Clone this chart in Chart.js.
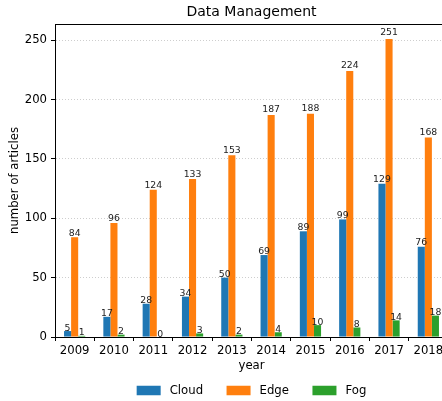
<!DOCTYPE html>
<html><head><meta charset="utf-8">
<script src="https://cdn.jsdelivr.net/npm/chart.js@4/dist/chart.umd.min.js"></script>
<style>html,body{margin:0;padding:0;overflow:hidden;background:#fff;width:442px;height:401px}canvas{display:block}</style>
</head><body>
<canvas id="c" width="503" height="401"></canvas>
<script>
const years = ['2009','2010','2011','2012','2013','2014','2015','2016','2017','2018'];
const cloud = [5,17,28,34,50,69,89,99,129,76];
const edge = [84,96,124,133,153,187,188,224,251,168];
const fog = [1,2,0,3,2,4,10,8,14,18];
const seriesNames = ['Cloud','Edge','Fog'];
const seriesColors = ['#1f77b4','#ff7f0e','#2ca02c'];
const yTicks = [0,50,100,150,200,250];
const yMax = 263.55;
const titleText = 'Data Management';
const xTitle = 'year';
const yTitle = 'number of articles';

const FONT = "'DejaVu Sans', sans-serif";
const FS = 11.7;

const barLabels = {
  id: 'barLabels',
  afterDatasetsDraw(chart) {
    const ctx = chart.ctx;
    const ys = chart.scales.y;
    ctx.save();
    ctx.font = '9.3px ' + FONT;
    ctx.fillStyle = '#222';
    ctx.textAlign = 'center';
    ctx.textBaseline = 'alphabetic';
    chart.data.datasets.forEach((ds, i) => {
      const meta = chart.getDatasetMeta(i);
      meta.data.forEach((el, j) => {
        const v = ds.data[j];
        const y = ys.getPixelForValue(v * 1.01);
        ctx.fillText(String(v), el.x, y - 0.5);
      });
    });
    ctx.restore();
  }
};

const frame = {
  id: 'frame',
  afterDraw(chart) {
    const ctx = chart.ctx, a = chart.chartArea;
    ctx.save();
    // top spine
    ctx.strokeStyle = '#000';
    ctx.lineWidth = 1;
    ctx.beginPath();
    ctx.moveTo(a.left, a.top + 0.5);
    ctx.lineTo(a.right, a.top + 0.5);
    ctx.stroke();
    // title
    ctx.fillStyle = '#000';
    ctx.font = '14px ' + FONT;
    ctx.textAlign = 'center';
    ctx.textBaseline = 'alphabetic';
    const cx = (a.left + a.right) / 2;
    ctx.fillText(titleText, cx, a.top - 8.5);
    // legend
    ctx.font = FS + 'px ' + FONT;
    ctx.textBaseline = 'middle';
    ctx.textAlign = 'left';
    const boxW = 24, boxH = 9.5, gap = 9, spacing = 23.5;
    const widths = chart.data.datasets.map(d => ctx.measureText(d.label).width);
    let total = 0;
    widths.forEach((w, i) => { total += boxW + gap + w + (i < widths.length - 1 ? spacing : 0); });
    let x = cx - total / 2;
    const yMid = 390.5;
    chart.data.datasets.forEach((d, i) => {
      ctx.fillStyle = d.backgroundColor;
      ctx.fillRect(x, yMid - boxH / 2, boxW, boxH);
      ctx.fillStyle = '#000';
      ctx.fillText(d.label, x + boxW + gap, yMid);
      x += boxW + gap + widths[i] + spacing;
    });
    ctx.restore();
  }
};

const datasets = [cloud, edge, fog].map((arr, i) => ({
  label: seriesNames[i],
  data: arr,
  backgroundColor: seriesColors[i],
  borderWidth: 0,
  categoryPercentage: 0.54,
  barPercentage: 1.0
}));

new Chart(document.getElementById('c'), {
  type: 'bar',
  data: { labels: years, datasets },
  options: {
    responsive: false,
    animation: false,
    devicePixelRatio: 1,
    layout: { padding: { top: 24, left: 0, right: 55, bottom: 0 } },
    plugins: { legend: { display: false }, title: { display: false }, tooltip: { enabled: false } },
    scales: {
      x: {
        offset: true,
        grid: { display: true, drawOnChartArea: false, drawTicks: true, tickLength: 4, tickColor: '#000', tickWidth: 1 },
        border: { display: true, color: '#000', width: 1 },
        ticks: { color: '#000', font: { family: FONT, size: FS }, padding: 3, maxRotation: 0, autoSkip: false },
        title: { display: true, text: xTitle, color: '#000', font: { family: FONT, size: FS }, padding: { top: 0, bottom: 28 } },
        afterFit(s) { s.height = 64; }
      },
      y: {
        min: 0,
        max: yMax,
        afterBuildTicks(s) { s.ticks = yTicks.map(v => ({ value: v })); },
        grid: { color: '#c8c8c8', lineWidth: 0.9, tickLength: 4, tickColor: '#000', tickWidth: 1, tickBorderDash: [] },
        border: { display: true, color: '#000', width: 1, dash: [1, 2] },
        ticks: { color: '#000', font: { family: FONT, size: FS }, padding: 4 },
        title: { display: true, text: yTitle, color: '#000', font: { family: FONT, size: FS }, padding: { top: 8, bottom: 0 } },
        afterFit(s) { s.width = 55; }
      }
    }
  },
  plugins: [barLabels, frame]
});
</script>
</body></html>
